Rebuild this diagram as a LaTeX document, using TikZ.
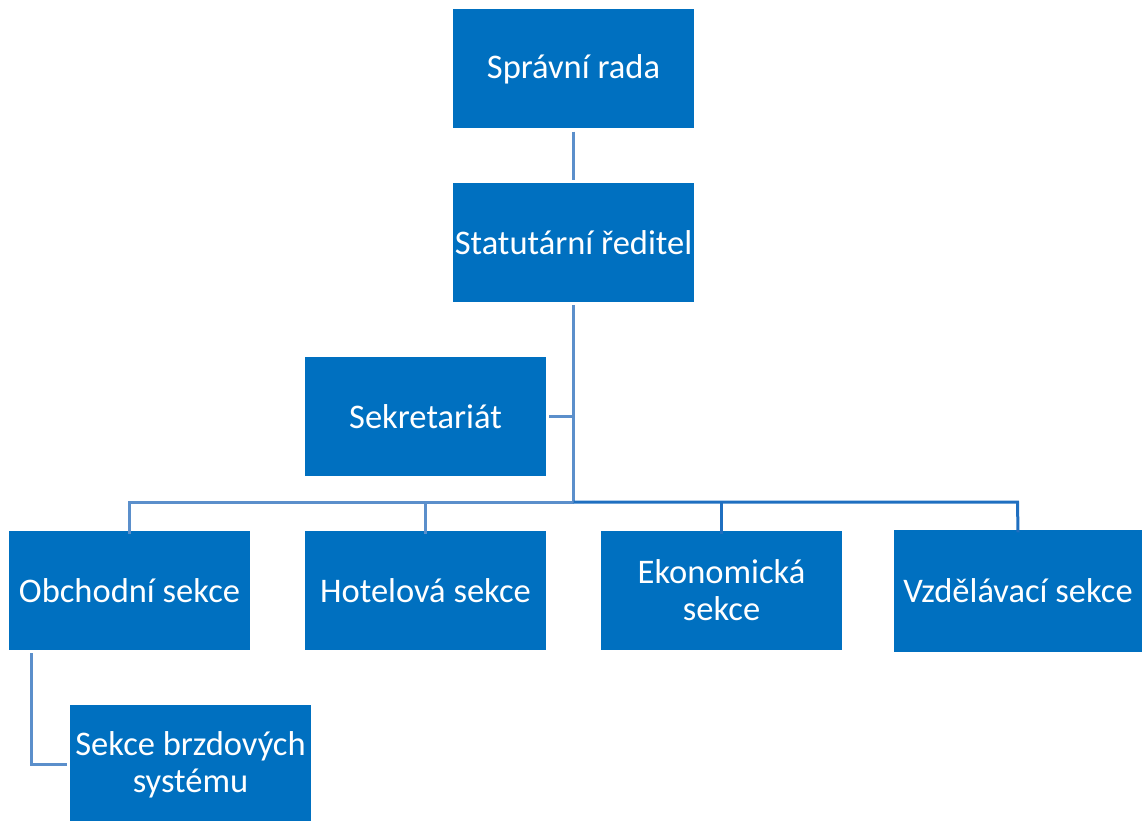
\documentclass[tikz,border=0pt]{standalone}
\usepackage{fontspec}
\setmainfont{Carlito}
\definecolor{boxblue}{HTML}{0070C0}
\definecolor{linelight}{HTML}{5B8FCB}
\definecolor{linedark}{HTML}{1F6FC0}
\begin{document}
\begin{tikzpicture}[x=1pt,y=-1pt,
  orgbox/.style={fill=boxblue, draw=none, text=white, minimum width=241pt, minimum height=119pt,
    inner sep=0pt, align=center, font=\fontsize{34.5}{37}\selectfont},
  conn/.style={draw=linelight, line width=3pt},
  conndark/.style={draw=linedark, line width=3pt}]
\useasboundingbox (0,0) rectangle (1144,821);
\node[orgbox] (sr) at (573.5,69) {Správní rada};
\node[orgbox] (st) at (573.5,242.5) {Statutární ředitel};
\node[orgbox] (sek) at (425.5,416.5) {Sekretariát};
\node[orgbox] (ob) at (129.5,590.5) {Obchodní sekce};
\node[orgbox] (ho) at (425.5,590.5) {Hotelová sekce};
\node[orgbox] (ek) at (721.5,590.5) {Ekonomická\\sekce};
\node[orgbox, minimum width=248pt, minimum height=122pt] (vz) at (1018,590.5) {Vzdělávací sekce};
\node[orgbox] (br) at (190.5,764.5) {Sekce brzdových\\systému};
\coordinate (busL) at (129.5,502);
\coordinate (busM) at (573.5,502);
\coordinate (busR) at (1017.5,502);
\draw[conn, shorten <=3pt, shorten >=3pt] (sr.south) -- (st.north);
\draw[conn, shorten <=3pt] (st.south) -- (busM);
\draw[conn, shorten <=3pt] (sek.east) -- (sek.east -| st.south);
\draw[conn] (busM) -- (busL) -- ([yshift=-3pt]ob.north);
\draw[conn] (ho.north |- busM) -- ([yshift=-3pt]ho.north);
\draw[conndark] (busM) -- (busR) -- ([yshift=-3pt]vz.north);
\draw[conndark] (ek.north |- busM) -- ([yshift=-3pt]ek.north);
\draw[conn, shorten <=3pt] ([xshift=23pt]ob.south west) |- ([xshift=-3pt]br.west);
\end{tikzpicture}
\end{document}
